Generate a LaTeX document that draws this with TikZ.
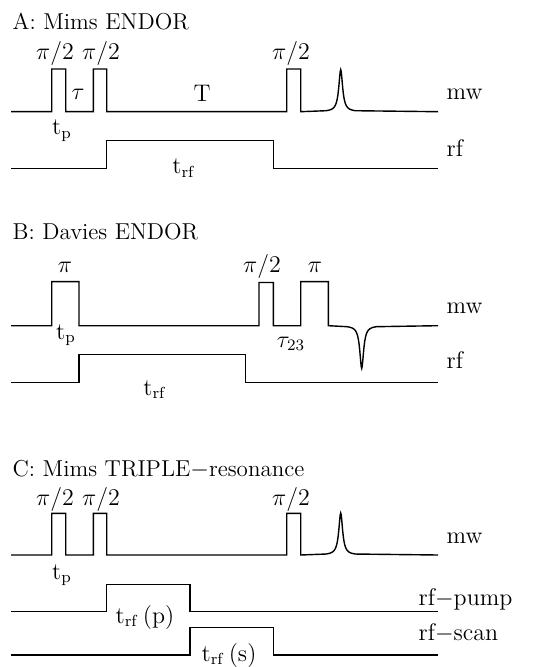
\documentclass[tikz,border=0pt]{standalone}
\begin{document}
\begin{tikzpicture}[x=0.5pt, y=-0.5pt, line width=0.7pt,
  trace/.style={line join=miter},
  lbl/.style={inner sep=0pt, anchor=base, font=\fontsize{12}{14}\selectfont},
  ttl/.style={lbl, anchor=base west, font=\fontsize{11.5}{14}\selectfont},
  chan/.style={lbl, anchor=base west}]
  \useasboundingbox (0,0) rectangle (542,667);
  % A: Mims ENDOR
  \node[ttl] (titleA) at (12,30) {A: Mims ENDOR};
  \draw[trace] (11,111.7) -| (51.7,69) -| (65.7,111.7) -| (93.3,69) -| (106.7,111.7) -| (286.7,69) -| (300.7,111.7)
    -- plot[domain=-15:15, samples=61] ({340.7+\x},{111.7-42/(1+(\x/2.3)^2)}) -- (438,111.7);
  \draw[trace] (11,168.3) -| (106.7,140.7) -| (273.3,168.3) -- (438,168.3);
  \node[lbl] (piA1) at (55,60) {$\pi/2$};
  \node[lbl] (piA2) at (101,60) {$\pi/2$};
  \node[lbl] (piA3) at (291,60) {$\pi/2$};
  \node[lbl] (tauA) at (78,100) {$\tau$};
  \node[lbl] (TA) at (202,102) {T};
  \node[lbl] (tpA) at (62,135) {t$_\mathrm{p}$};
  \node[lbl] (trfA) at (184,174) {t$_\mathrm{rf}$};
  \node[chan] (mwA) at (446,100) {mw};
  \node[chan] (rfA) at (446,157) {rf};
  % B: Davies ENDOR
  \node[ttl] (titleB) at (12,240) {B: Davies ENDOR};
  \draw[trace] (11,325.7) -| (51.7,281.7) -| (79,325.7) -| (259,282.5) -| (273.3,325.7) -| (300.7,281.7) -| (328.3,325.7)
    -- plot[domain=-15:15, samples=61] ({361.7+\x},{325.7+42.6/(1+(\x/2.3)^2)}) -- (438,325.7);
  \draw[trace] (11,382.7) -| (79,354.3) -| (245.7,382.7) -- (438,382.7);
  \node[lbl] (piB1) at (65,272.7) {$\pi$};
  \node[lbl] (piB2) at (262,272.7) {$\pi/2$};
  \node[lbl] (piB3) at (315,272.7) {$\pi$};
  \node[lbl] (tpB) at (66,339) {t$_\mathrm{p}$};
  \node[lbl] (tauB) at (291,347) {$\tau_{23}$};
  \node[lbl] (trfB) at (155,395) {t$_\mathrm{rf}$};
  \node[chan] (mwB) at (446,313.3) {mw};
  \node[chan] (rfB) at (446,368.3) {rf};
  % C: Mims TRIPLE-resonance
  \node[ttl] (titleC) at (12,476.7) {C: Mims TRIPLE$-$resonance};
  \draw[trace] (11,555) -| (51.7,513.3) -| (65.7,555) -| (93.3,513.3) -| (106.7,555) -| (286.7,513.3) -| (300.7,555)
    -- plot[domain=-15:15, samples=61] ({340.7+\x},{555-42/(1+(\x/2.3)^2)}) -- (438,555);
  \draw[trace] (11,611.7) -| (106.7,584.3) -| (190,611.7) -- (438,611.7);
  \draw[trace] (11,655) -| (190,627.3) -| (273.3,655) -- (438,655);
  \node[lbl] (piC1) at (55,505) {$\pi/2$};
  \node[lbl] (piC2) at (101,505) {$\pi/2$};
  \node[lbl] (piC3) at (291,505) {$\pi/2$};
  \node[lbl] (tpC) at (62,579) {t$_\mathrm{p}$};
  \node[lbl] (trfC1) at (145,623) {t$_\mathrm{rf}$\,(p)};
  \node[lbl] (trfC2) at (229,661) {t$_\mathrm{rf}$\,(s)};
  \node[chan] (mwC) at (446,543.3) {mw};
  \node[chan] (pumpC) at (418,605) {rf$-$pump};
  \node[chan] (scanC) at (418,640) {rf$-$scan};
\end{tikzpicture}
\end{document}
